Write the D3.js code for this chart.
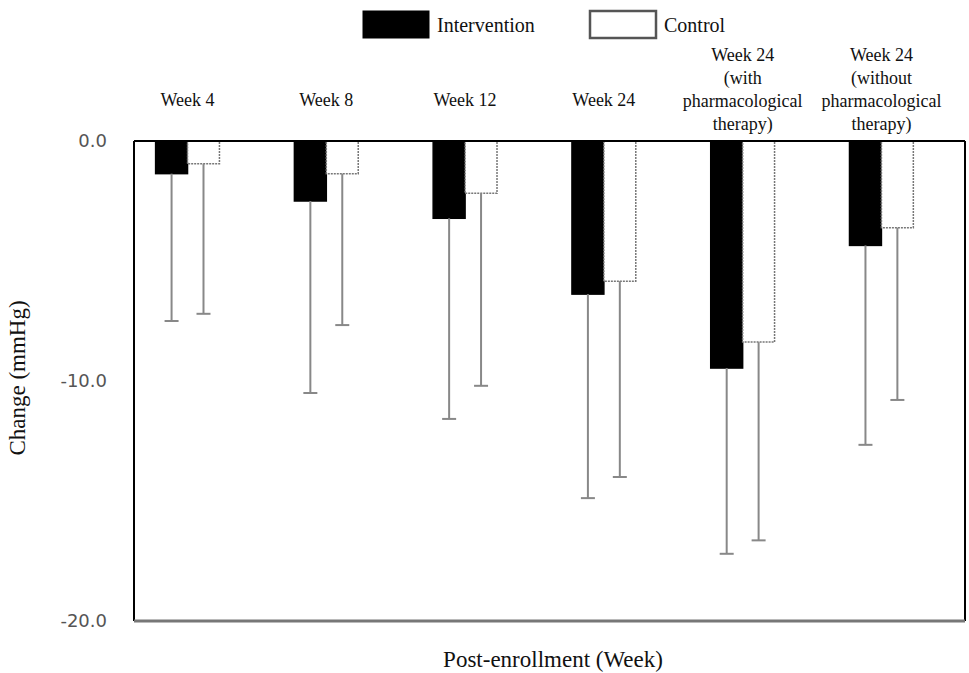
<!DOCTYPE html>
<html lang="en">
<head>
<meta charset="UTF-8" />
<title>Change (mmHg)</title>
<script src="https://d3js.org/d3.v7.min.js"></script>
<style>
  body { margin: 0; background: #fff; }
</style>
</head>
<body>
<div id="chart"></div>
<script>
// categories (each label split into lines)
var categories = ["w4", "w8", "w12", "w24", "w24p", "w24n"];
var categoryLines = [
  ["Week 4"],
  ["Week 8"],
  ["Week 12"],
  ["Week 24"],
  ["Week 24", "(with", "pharmacological", "therapy)"],
  ["Week 24", "(without", "pharmacological", "therapy)"]
];
var seriesNames = ["Intervention", "Control"];

// mean change and SD
var interventionMean = [-1.36, -2.50, -3.22, -6.38, -9.46, -4.35];
var interventionSD   = [6.14, 8.00, 8.36, 8.50, 7.74, 8.31];
var controlMean      = [-0.95, -1.36, -2.18, -5.84, -8.38, -3.61];
var controlSD        = [6.25, 6.31, 8.02, 8.16, 8.26, 7.18];

var yTicks = [0, -10, -20];

var SERIF = "'Liberation Serif', 'Times New Roman', serif";
var SANS = "'DejaVu Sans', Verdana, sans-serif";

var data = categories.map(function(c, i) {
  return {
    cat: c,
    values: [
      {key: "Intervention", mean: interventionMean[i], sd: interventionSD[i]},
      {key: "Control", mean: controlMean[i], sd: controlSD[i]}
    ]
  };
});

var W = 969, H = 673;
var margin = {top: 141, right: 4, bottom: 52, left: 134},
    width = W - margin.left - margin.right,
    height = H - margin.top - margin.bottom;

var root = d3.select("#chart").append("svg")
    .attr("width", W)
    .attr("height", H);

var svg = root.append("g")
    .attr("transform", "translate(" + margin.left + "," + margin.top + ")");

// scales
var x0 = d3.scaleBand()
    .domain(categories)
    .range([0, width])
    .paddingInner(0.54)
    .paddingOuter(0.264)
    .align(0.295);

var x1 = d3.scaleBand()
    .domain(seriesNames)
    .range([0, x0.bandwidth()]);

var y = d3.scaleLinear()
    .domain([-20, 0])
    .range([height, 0]);

// y tick labels
svg.append("g")
  .selectAll("text")
  .data(yTicks)
  .enter()
  .append("text")
    .attr("font-family", SANS)
    .attr("font-size", 18)
    .attr("fill", "#555")
    .attr("x", -27)
    .attr("y", function(d) { return y(d); })
    .attr("dy", "0.35em")
    .attr("text-anchor", "end")
    .text(function(d) { return d3.format(".1f")(d).replace("\u2212", "-"); });

// bars
var groups = svg.append("g")
  .selectAll("g")
  .data(data)
  .enter()
  .append("g")
    .attr("transform", function(d) { return "translate(" + x0(d.cat) + ",0)"; });

groups.selectAll("rect")
  .data(function(d) { return d.values; })
  .enter()
  .append("rect")
    .attr("x", function(d) { return x1(d.key); })
    .attr("y", y(0))
    .attr("width", x1.bandwidth())
    .attr("height", function(d) { return y(d.mean) - y(0); })
    .attr("fill", function(d) { return d.key === "Intervention" ? "#000" : "#fff"; })
    .attr("stroke", function(d) { return d.key === "Intervention" ? "#000" : "#777"; })
    .attr("stroke-width", 1.5)
    .attr("stroke-dasharray", function(d) { return d.key === "Intervention" ? null : "2,1"; });

// error bars (downward only)
var err = groups.selectAll("g.err")
  .data(function(d) { return d.values; })
  .enter()
  .append("g")
    .attr("class", "err");

err.append("line")
    .attr("x1", function(d) { return x1(d.key) + x1.bandwidth() / 2; })
    .attr("x2", function(d) { return x1(d.key) + x1.bandwidth() / 2; })
    .attr("y1", function(d) { return y(d.mean); })
    .attr("y2", function(d) { return y(d.mean - d.sd); })
    .attr("stroke", "#888")
    .attr("stroke-width", 2);

err.append("line")
    .attr("x1", function(d) { return x1(d.key) + x1.bandwidth() / 2 - 7; })
    .attr("x2", function(d) { return x1(d.key) + x1.bandwidth() / 2 + 7; })
    .attr("y1", function(d) { return y(d.mean - d.sd); })
    .attr("y2", function(d) { return y(d.mean - d.sd); })
    .attr("stroke", "#888")
    .attr("stroke-width", 2);

// frame
svg.append("line").attr("x1", 0).attr("x2", 0).attr("y1", 0).attr("y2", height)
    .attr("stroke", "#000").attr("stroke-width", 2);
svg.append("line").attr("x1", width).attr("x2", width).attr("y1", 0).attr("y2", height)
    .attr("stroke", "#000").attr("stroke-width", 2);
svg.append("line").attr("x1", 0).attr("x2", width).attr("y1", y(0)).attr("y2", y(0))
    .attr("stroke", "#000").attr("stroke-width", 2);
svg.append("line").attr("x1", 0).attr("x2", width).attr("y1", height).attr("y2", height)
    .attr("stroke", "#777").attr("stroke-width", 3);

// category labels above plot
var labels = svg.append("g")
  .selectAll("text")
  .data(categories)
  .enter()
  .append("text")
    .attr("font-family", SERIF)
    .attr("font-size", 18)
    .attr("fill", "#111")
    .attr("text-anchor", "middle")
    .attr("x", function(d) { return x0(d) + x0.bandwidth() / 2; })
    .attr("y", function(d, i) { return categoryLines[i].length > 1 ? -80 : -35; });

labels.selectAll("tspan")
  .data(function(d, i) { return categoryLines[i]; })
  .enter()
  .append("tspan")
    .attr("x", function() { return d3.select(this.parentNode).attr("x"); })
    .attr("dy", function(d, i) { return i === 0 ? 0 : 23; })
    .text(function(d) { return d; });

// axis titles
root.append("text")
    .attr("font-family", SERIF)
    .attr("font-size", 23)
    .attr("fill", "#111")
    .attr("text-anchor", "middle")
    .attr("transform", "translate(25," + 378 + ") rotate(-90)")
    .text("Change (mmHg)");

root.append("text")
    .attr("font-family", SERIF)
    .attr("font-size", 23)
    .attr("fill", "#111")
    .attr("text-anchor", "middle")
    .attr("x", 553)
    .attr("y", 667)
    .text("Post-enrollment (Week)");

// legend
var legend = root.append("g").attr("transform", "translate(363,11)");
var legendX = [0, 227];
seriesNames.forEach(function(s, i) {
  legend.append("rect")
      .attr("x", legendX[i])
      .attr("y", 0)
      .attr("width", 66)
      .attr("height", 27)
      .attr("fill", i === 0 ? "#000" : "#fff")
      .attr("stroke", i === 0 ? "#000" : "#555")
      .attr("stroke-width", i === 0 ? 1 : 2.5);
  legend.append("text")
      .attr("font-family", SERIF)
      .attr("font-size", 20)
      .attr("fill", "#111")
      .attr("x", legendX[i] + 74)
      .attr("y", 21)
      .text(s);
});
</script>
</body>
</html>
